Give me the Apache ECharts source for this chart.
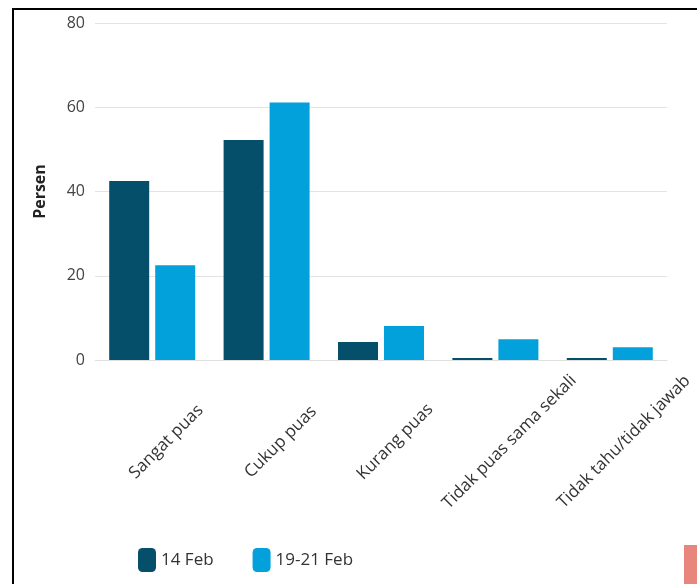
<!DOCTYPE html>
<html>
<head>
<meta charset="utf-8">
<script src="https://cdn.jsdelivr.net/npm/echarts@6/dist/echarts.min.js"></script>
<style>
html, body { margin: 0; padding: 0; background: #fff; }
#chart { width: 697px; height: 584px; }
</style>
</head>
<body>
<div id="chart"></div>
<script>
var categories = ['Sangat puas', 'Cukup puas', 'Kurang puas', 'Tidak puas sama sekali', 'Tidak tahu/tidak jawab'];
var feb14 = [42.5, 52.2, 4.3, 0.5, 0.5];
var feb19 = [22.5, 61.1, 8.1, 4.9, 3.0];
var yTicks = [0, 20, 40, 60, 80];

var chart = echarts.init(document.getElementById('chart'));
var option = {
	textStyle: { fontFamily: 'Open Sans' },
	animation: false,
	color: ['#064f6a', '#03a1dc'],
	grid: {
		left: 95,
		right: 30,
		top: 23,
		bottom: 224
	},
	legend: {
		bottom: 7,
		left: 133,
		itemWidth: 18,
		itemHeight: 24,
		itemGap: 39,
		icon: 'roundRect',
		textStyle: { fontSize: 17, color: '#333' },
		data: ['14 Feb', '19-21 Feb']
	},
	xAxis: {
		type: 'category',
		data: categories,
		axisTick: { show: false },
		axisLine: { lineStyle: { color: '#e0e0e0' } },
		axisLabel: {
			rotate: 45,
			fontSize: 17,
			color: '#333',
			align: 'center',
			verticalAlign: 'middle',
			margin: 96,
			padding: [0, 0, 0, 40],
			interval: 0
		}
	},
	yAxis: {
		type: 'value',
		min: yTicks[0],
		max: yTicks[yTicks.length - 1],
		interval: 20,
		name: 'Persen',
		nameLocation: 'middle',
		nameGap: 47,
		nameTextStyle: { fontWeight: 'bold', fontSize: 16, color: '#222' },
		axisLabel: { fontSize: 16, color: '#444', margin: 10 },
		splitLine: { lineStyle: { color: '#e3e3e3' } }
	},
	series: [{
		name: '14 Feb',
		type: 'bar',
		data: feb14,
		barWidth: 40,
		barGap: '15%'
	}, {
		name: '19-21 Feb',
		type: 'bar',
		data: feb19,
		barWidth: 40
	}],
	graphic: [{
		type: 'rect',
		shape: { x: 12, y: 8, width: 685, height: 2 },
		style: { fill: '#000' }
	}, {
		type: 'rect',
		shape: { x: 12, y: 8, width: 2, height: 576 },
		style: { fill: '#000' }
	}, {
		type: 'rect',
		shape: { x: 684, y: 545, width: 13, height: 39 },
		style: { fill: '#e8857c' }
	}]
};
chart.setOption(option);
</script>
</body>
</html>
